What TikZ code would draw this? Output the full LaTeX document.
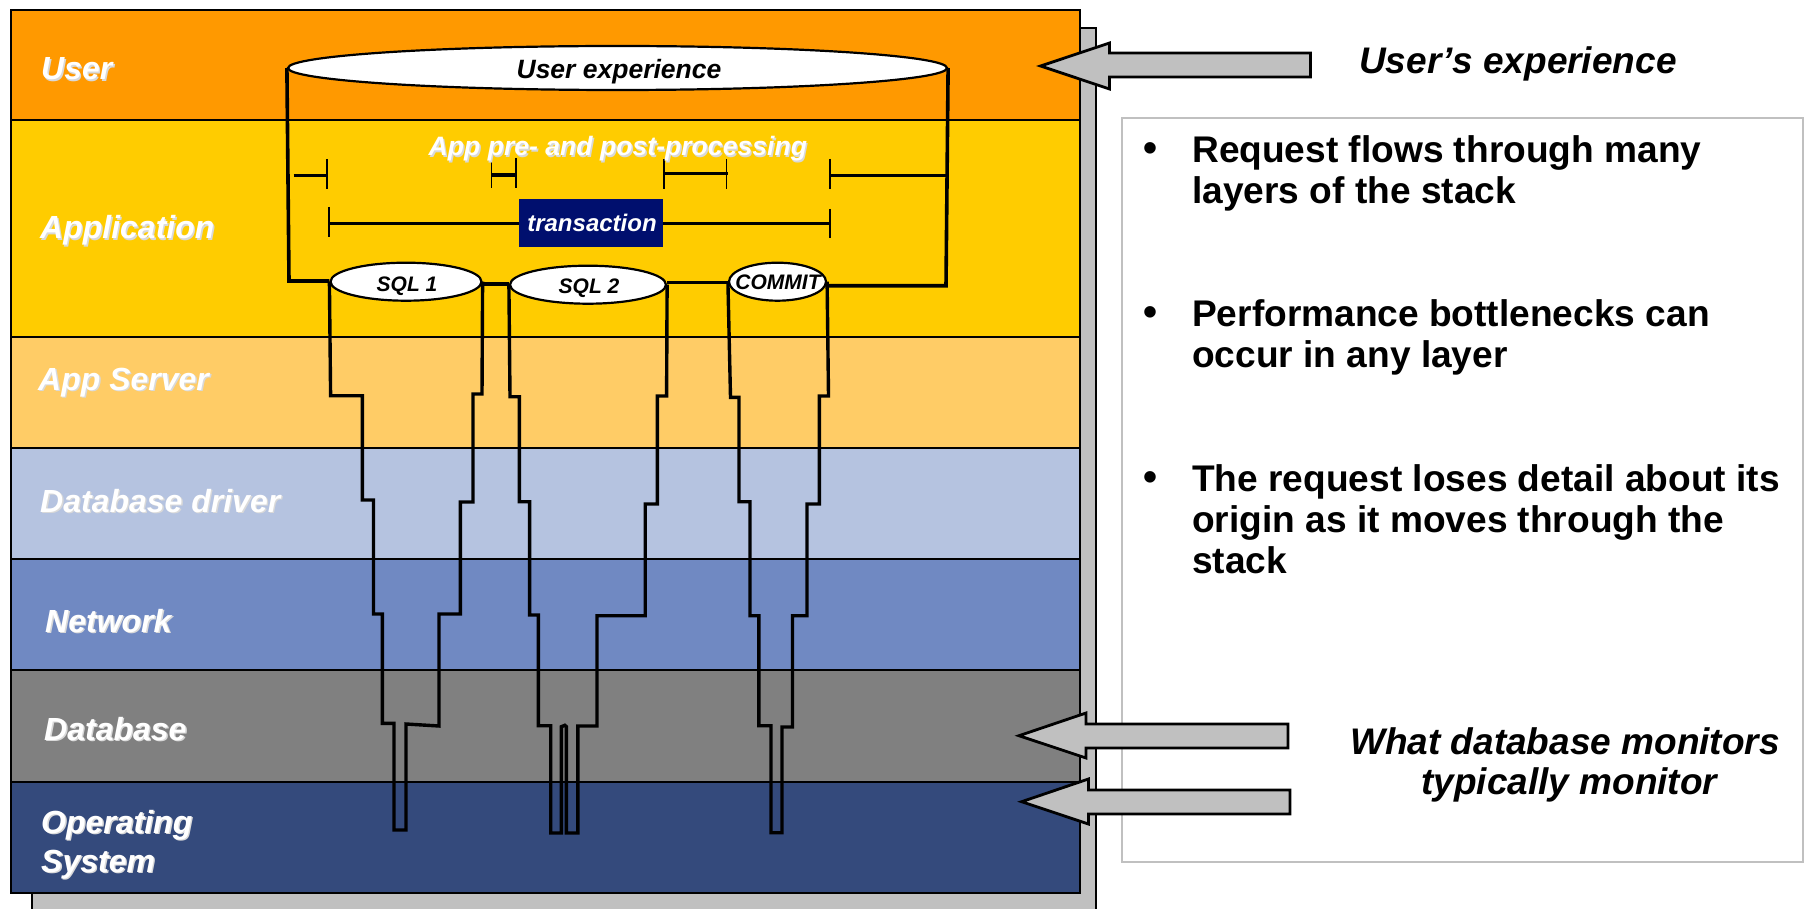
\documentclass[tikz,border=0pt]{standalone}
\usepackage{fontspec}
\setmainfont{Liberation Sans}
\usetikzlibrary{shapes.geometric}
\definecolor{cuser}{HTML}{FF9900}
\definecolor{capp}{HTML}{FFCC00}
\definecolor{cserver}{HTML}{FFCC66}
\definecolor{cdriver}{HTML}{B5C3E0}
\definecolor{cnet}{HTML}{7089C2}
\definecolor{cdb}{HTML}{808080}
\definecolor{cos}{HTML}{344A7C}
\definecolor{cgrey}{HTML}{C0C0C0}
\definecolor{cnavy}{HTML}{000F6E}
\definecolor{cshade}{HTML}{D9D9D9}
\newcommand{\fsz}[1]{\fontsize{#1}{#1}\selectfont}
\newcommand{\shd}[1]{\rlap{\kern1.4pt\raisebox{-1.4pt}{\color{cshade}#1}}#1}
\tikzset{
  x=1pt,y=-1pt,
  layer/.style={draw=black,line width=2pt},
  lbl/.style={anchor=base west,inner sep=0pt,text=white,font=\bfseries\itshape\fsz{32}},
  wire/.style={draw=black,line width=3.6pt,line join=miter},
  thinwire/.style={draw=black,line width=3.4pt,line join=miter},
  tick/.style={draw=black,line width=1.8pt},
  disk/.style={ellipse,draw=black,fill=white,line width=2.2pt,inner sep=0pt,font=\bfseries\itshape},
  blockarrow/.style={draw=black,fill=cgrey,line width=2.8pt,line join=miter},
  rtext/.style={anchor=base west,inner sep=0pt,text=black,font=\bfseries\fsz{37.1}},
  bulletmark/.style={anchor=base west,inner sep=0pt,text=black,font=\bfseries\fsz{40}},
  rital/.style={anchor=base west,inner sep=0pt,text=black,font=\bfseries\itshape\fsz{37}},
}
\begin{document}
\begin{tikzpicture}
\useasboundingbox (0,0) rectangle (1806,909);
\fill[white] (0,0) rectangle (1806,909);
% grey shadow
\path[draw=black,fill=cgrey,line width=2pt] (32,28) rectangle (1096,912);
% layers
\path[layer,fill=cuser] (11,10) rectangle (1080,120);
\path[layer,fill=capp] (11,120) rectangle (1080,337);
\path[layer,fill=cserver] (11,337) rectangle (1080,448);
\path[layer,fill=cdriver] (11,448) rectangle (1080,559);
\path[layer,fill=cnet] (11,559) rectangle (1080,670);
\path[layer,fill=cdb] (11,670) rectangle (1080,782);
\path[layer,fill=cos] (11,782) rectangle (1080,893);
% text box
\path[draw=cgrey,fill=white,line width=2pt] (1122,118) rectangle (1803,862);
% layer labels
\node[lbl] (lUser) at (41,80) {\shd{User}};
\node[lbl] (lApp) at (40,239) {\shd{Application}};
\node[lbl] (lServer) at (38,390) {\shd{App Server}};
\node[lbl] (lDriver) at (40,512) {\shd{Database driver}};
\node[lbl] (lNet) at (45,632) {\shd{Network}};
\node[lbl] (lDb) at (44,740) {\shd{Database}};
\node[lbl] (lOs1) at (41,833) {\shd{Operating}};
\node[lbl] (lOs2) at (41,872) {\shd{System}};
% disks
\node[disk,minimum width=659pt,minimum height=44pt] (ue) at (617.5,68) {};
\node[disk,minimum width=151pt,minimum height=38pt] (s1) at (406,281.7) {};
\node[disk,minimum width=156pt,minimum height=38pt] (s2) at (588,284.7) {};
\node[disk,minimum width=97pt,minimum height=38pt] (s3) at (777.5,281.7) {};
\node[anchor=base,inner sep=0pt,font=\bfseries\itshape\fsz{26.5}] (tue) at (619,79) {User experience};
\node[anchor=base,inner sep=0pt,font=\bfseries\itshape\fsz{21}] (ts1) at (407,291) {SQL 1};
\node[anchor=base,inner sep=0pt,font=\bfseries\itshape\fsz{21}] (ts2) at (589,294) {SQL 2};
\node[anchor=base,inner sep=0pt,font=\bfseries\itshape\fsz{21}] (ts3) at (778,290) {COMMIT};
% outer cylinder and joining lines
\draw[wire] (ue.west) -- (289,281) -- (s1.west |- 0,281);
\draw[wire] (s1.east |- 0,284) -- (s2.west |- 0,284);
\draw[wire] (s2.east |- 0,282.3) -- (s3.west |- 0,282.3);
\draw[wire] (ue.east) -- (946,285.7) -- (s3.east |- 0,285.7);
% funnels
\draw[thinwire] (s1.west) -- (330.6,395.7) -- (362.4,395.7) -- (362.4,500) -- (373.5,500) -- (373.5,614) -- (382.3,614) -- (382.3,723.3) -- (394,723.3) -- (394,830) -- (406,830) -- (406,724) -- (439,726) -- (439,614) -- (460.4,614) -- (460.4,502) -- (473,502) -- (473,394) -- (482,394) -- (s1.east);
\draw[thinwire] (s2.west) -- (510,396.7) -- (519.3,396.7) -- (519.3,501.7) -- (529.6,501.7) -- (529.6,615) -- (538.4,615) -- (538.4,725.7) -- (550.7,725.7) -- (550.7,833) -- (561.4,833) -- (561.4,726.7) -- (564.8,725.3) -- (566.4,726.7) -- (566.4,833) -- (577.8,833) -- (577.8,726) -- (597,726) -- (597,615.7) -- (645.2,615.7) -- (645.2,504) -- (657.4,504) -- (657.4,396) -- (666.6,396) -- (s2.east);
\draw[thinwire] (s3.west) -- (730.5,397.3) -- (739,397.3) -- (739,501.7) -- (750,501.7) -- (750,615.7) -- (758.9,615.7) -- (758.9,725.7) -- (771,725.7) -- (771,832.7) -- (782,832.7) -- (782,727) -- (792.5,727) -- (792.5,615.7) -- (807,615.7) -- (807,504) -- (819.3,504) -- (819.3,396) -- (828.5,396) -- (s3.east);
% timeline ticks
\draw[tick] (327,159) -- (327,189);
\draw[tick] (491.4,158) -- (491.4,188);
\draw[tick] (516,158) -- (516,188);
\draw[tick] (664,159) -- (664,189);
\draw[tick] (726.4,159) -- (726.4,189);
\draw[tick] (829.8,159) -- (829.8,189);
\draw[tick] (328.7,207) -- (328.7,237);
\draw[tick] (830,209) -- (830,238);
\draw[wire] (293.5,175.7) -- (328,175.7);
\draw[wire] (491.4,175) -- (517,175);
\draw[wire] (664,173.7) -- (727.5,173.7);
\draw[wire] (829.8,175.7) -- (946,175.7);
% transaction
\node[fill=cnavy,text=white,inner sep=0pt,minimum width=144pt,minimum height=47.7pt,font=\bfseries\itshape\fsz{24}] (tr) at (591,223) {\kern2pt\raisebox{-1pt}{transaction}};
\coordinate (trL) at (328.7,223.7);
\coordinate (trR) at (830,223.7);
\draw[wire] (trL) -- (trL -| tr.west);
\draw[wire] (trR -| tr.east) -- (trR);
\node[anchor=base west,inner sep=0pt,text=white,font=\bfseries\itshape\fsz{26.6}] (pre) at (428.5,156) {\shd{App pre- and post-processing}};
% block arrows
\draw[blockarrow] (1040.6,66) -- (1109.5,43) -- (1109.5,53) -- (1310.5,53) -- (1310.5,77) -- (1109.5,77) -- (1109.5,89) -- cycle;
\draw[blockarrow] (1019,735.7) -- (1086,713) -- (1086,724) -- (1288,724) -- (1288,748) -- (1086,748) -- (1086,758) -- cycle;
\draw[blockarrow] (1021.6,801.7) -- (1088.4,779) -- (1088.4,790) -- (1290,790) -- (1290,814) -- (1088.4,814) -- (1088.4,824) -- cycle;
% right text
\node[rital] (tUser) at (1359,74) {User’s experience};
\node[rital] (tMon1) at (1350,754) {What database monitors};
\node[rital] (tMon2) at (1421,794) {typically monitor};
\node[bulletmark] (b1) at (1143,162) {•};
\node[rtext] (b1a) at (1192,163) {Request flows through many};
\node[rtext] (b1b) at (1192,204) {layers of the stack};
\node[bulletmark] (b2) at (1143,325) {•};
\node[rtext] (b2a) at (1192,326.5) {Performance bottlenecks can};
\node[rtext] (b2b) at (1192,367.5) {occur in any layer};
\node[bulletmark] (b3) at (1143,490) {•};
\node[rtext] (b3a) at (1192,491.5) {The request loses detail about its};
\node[rtext] (b3b) at (1192,532.5) {origin as it moves through the};
\node[rtext] (b3c) at (1192,573.5) {stack};
\end{tikzpicture}
\end{document}
